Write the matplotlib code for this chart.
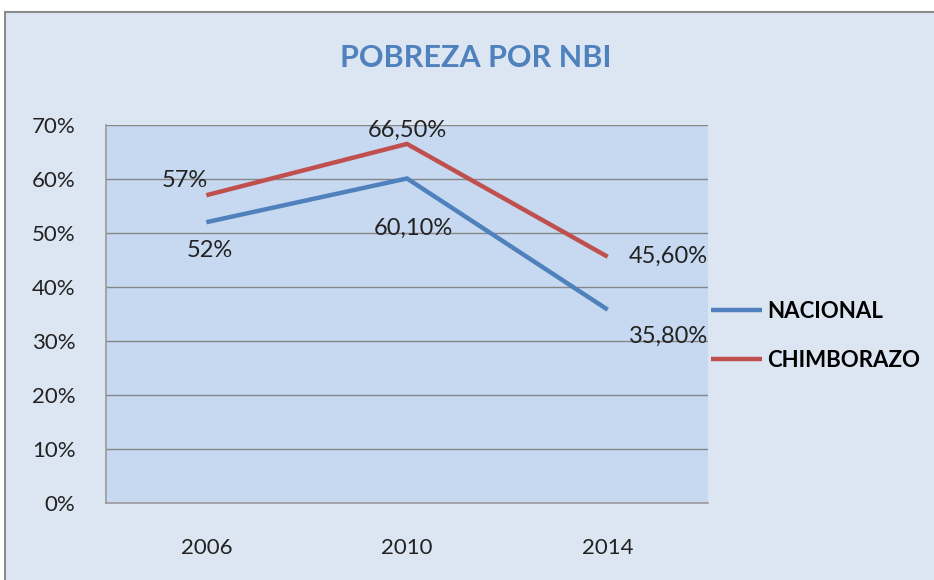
import matplotlib
matplotlib.use("Agg")
import matplotlib.pyplot as plt
from matplotlib.patches import Rectangle

years = ["2006", "2010", "2014"]
nacional = [52.0, 60.1, 35.8]
chimborazo = [57.0, 66.5, 45.6]
nacional_labels = ["52%", "60,10%", "35,80%"]
chimborazo_labels = ["57%", "66,50%", "45,60%"]
yticks = [0, 10, 20, 30, 40, 50, 60, 70]
ytick_labels = ["0%", "10%", "20%", "30%", "40%", "50%", "60%", "70%"]
series_names = ["NACIONAL", "CHIMBORAZO"]

BLUE = "#4f81bd"
RED = "#c0504d"
FONT = "Lato"

fig = plt.figure(figsize=(9.34, 5.8), dpi=100, facecolor="white")
# chart area background with border
bg = Rectangle((5/934, -0.05), 1.0, 1 - 12/580 + 0.05, transform=fig.transFigure,
               facecolor="#dce6f2", edgecolor="#8c8c8c", linewidth=1.5, zorder=-10)
fig.patches.append(bg)

ax = fig.add_axes([106/934, 1 - 503/580, (708 - 106)/934, (503 - 125)/580])
ax.set_zorder(5)
ax.set_facecolor("#c6d9f0")
x = list(range(len(years)))
l1, = ax.plot(x, nacional, color=BLUE, lw=3.2, solid_capstyle="butt", zorder=3)
l2, = ax.plot(x, chimborazo, color=RED, lw=3.2, solid_capstyle="butt", zorder=3)
ax.set_xlim(-0.5, 2.5)
ax.set_ylim(0, 70)
ax.set_yticks(yticks)
ax.set_yticklabels(ytick_labels, fontsize=16, family=FONT, color="#222222")
ax.set_xticks(x)
ax.set_xticklabels(years, fontsize=16, family=FONT, color="#222222")
ax.tick_params(length=0, pad=22, axis="y")
ax.tick_params(length=0, pad=25, axis="x")
ax.grid(axis="y", color="#868686", lw=1)
ax.set_axisbelow(True)
for s in ["top", "right"]:
    ax.spines[s].set_visible(False)
for s in ["left", "bottom"]:
    ax.spines[s].set_color("#9a9a9a")
    ax.spines[s].set_linewidth(1.2)

red_off = [(-22, 15), (0, 14), (61, 0)]
blue_off = [(3, -28), (6, -50), (61, -27)]
for i in x:
    ax.annotate(chimborazo_labels[i], (i, chimborazo[i]), xytext=red_off[i], textcoords="offset pixels",
                ha="center", va="center", fontsize=17, family=FONT, color="#222222", zorder=5,
                annotation_clip=False)
    ax.annotate(nacional_labels[i], (i, nacional[i]), xytext=blue_off[i], textcoords="offset pixels",
                ha="center", va="center", fontsize=17, family=FONT, color="#222222", zorder=5,
                annotation_clip=False)

fig.text(476/934, 1 - 58/580, "POBREZA POR NBI", ha="center", va="center", fontsize=22,
         fontweight="bold", family=FONT, color=BLUE)

leg = fig.legend([l1, l2], series_names, loc="center left", bbox_to_anchor=(704/934, 1 - 336/580),
                 frameon=False, handlelength=2.3, handletextpad=0.25, labelspacing=1.25,
                 borderaxespad=0, borderpad=0.3,
                 prop={"family": FONT, "weight": "bold", "size": 16})

fig.savefig("out.png", dpi=100)
